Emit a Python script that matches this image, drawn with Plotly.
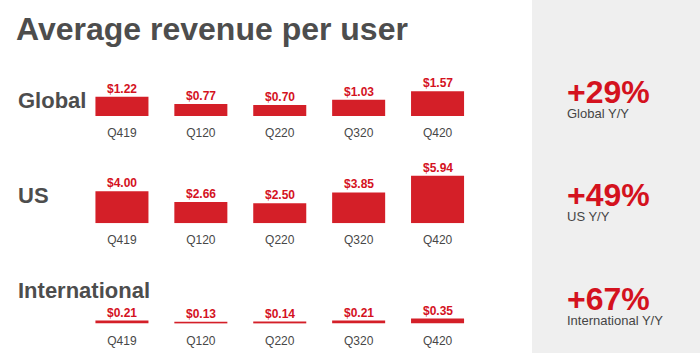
import plotly.graph_objects as go

W, H = 700, 353

quarters = ["Q419", "Q120", "Q220", "Q320", "Q420"]
row_names = ["Global", "US", "International"]
global_arpu = [1.22, 0.77, 0.70, 1.03, 1.57]
us_arpu = [4.00, 2.66, 2.50, 3.85, 5.94]
intl_arpu = [0.21, 0.13, 0.14, 0.21, 0.35]
yoy_growth = ["+29%", "+49%", "+67%"]
yoy_labels = ["Global Y/Y", "US Y/Y", "International Y/Y"]
title_text = "Average revenue per user"

series = [global_arpu, us_arpu, intl_arpu]

BAR = "#d41f28"
RED_TXT = "#d4121e"
GRAY = "#4d4d4d"
TICK = "#474747"
PANEL = "#efefef"

# layout geometry (pixels from top)
x_left_px, x_right_px = 82.5, 477.0
rows = [
    # baseline px, px per dollar, y max
    dict(base=116.0, scale=15.7, ymax=2.2),
    dict(base=223.3, scale=8.0, ymax=6.6),
    dict(base=323.5, scale=14.0, ymax=1.2),
]
row_label_y = [100, 195, 290]
pct_y = [92.0, 195.5, 298.5]
sub_y = [113, 216, 320]


def py(px):
    return 1 - px / H


def pxx(px):
    return px / W


fig = go.Figure()
annotations = []
layout_axes = {}

for i, (vals, r) in enumerate(zip(series, rows)):
    n = "" if i == 0 else str(i + 1)
    top_px = r["base"] - r["scale"] * r["ymax"]
    fig.add_trace(go.Bar(
        x=quarters, y=vals, width=0.672,
        marker=dict(color=BAR, line=dict(width=0)),
        xaxis="x" + n, yaxis="y" + n, hoverinfo="skip", showlegend=False,
    ))
    layout_axes["xaxis" + n] = dict(
        domain=[pxx(x_left_px), pxx(x_right_px)],
        anchor="y" + n, type="category", range=[-0.5, 4.5],
        showgrid=False, zeroline=False, showline=False, ticks="",
        tickfont=dict(family="Liberation Sans, Arial", size=12, color=TICK),
        ticklabelstandoff=8, fixedrange=True,
    )
    layout_axes["yaxis" + n] = dict(
        domain=[py(r["base"]), py(top_px)], anchor="x" + n,
        range=[0, r["ymax"]], visible=False, fixedrange=True,
    )
    for q, v in zip(quarters, vals):
        annotations.append(dict(
            x=q, y=v, xref="x" + n, yref="y" + n, text=f"${v:.2f}",
            showarrow=False, xanchor="center", yanchor="middle", yshift=8,
            font=dict(family="Liberation Sans, Arial", size=12, color=RED_TXT, weight="bold"),
        ))
    annotations.append(dict(
        x=pxx(16), y=py(row_label_y[i]), xref="paper", yref="paper",
        text=row_names[i], showarrow=False, xanchor="left", yanchor="middle",
        font=dict(family="Liberation Sans, Arial", size=22, color=GRAY, weight="bold"),
    ))
    annotations.append(dict(
        x=pxx(565), y=py(pct_y[i]), xref="paper", yref="paper",
        text=yoy_growth[i], showarrow=False, xanchor="left", yanchor="middle",
        font=dict(family="Liberation Sans, Arial", size=32, color=RED_TXT, weight="bold"),
    ))
    annotations.append(dict(
        x=pxx(565), y=py(sub_y[i]), xref="paper", yref="paper",
        text=yoy_labels[i], showarrow=False, xanchor="left", yanchor="middle",
        font=dict(family="Liberation Sans, Arial", size=13, color="#454545"),
    ))

annotations.append(dict(
    x=pxx(14), y=py(29.5), xref="paper", yref="paper",
    text=title_text, showarrow=False, xanchor="left", yanchor="middle",
    font=dict(family="Liberation Sans, Arial", size=32, color=GRAY, weight="bold"),
))

fig.update_layout(
    width=W, height=H, margin=dict(l=0, r=0, t=0, b=0),
    paper_bgcolor="white", plot_bgcolor="rgba(0,0,0,0)",
    annotations=annotations,
    shapes=[dict(type="rect", xref="paper", yref="paper", x0=pxx(532), x1=1,
                 y0=0, y1=1, fillcolor=PANEL, line=dict(width=0), layer="below")],
    **layout_axes,
)

fig.write_html("out.html", config={"displayModeBar": False})
